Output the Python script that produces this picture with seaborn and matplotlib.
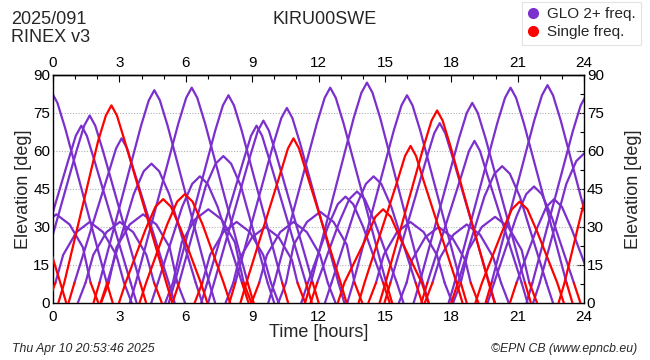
import numpy as np
import pandas as pd
import matplotlib
matplotlib.use("Agg")
import matplotlib.pyplot as plt
from matplotlib.lines import Line2D
from matplotlib.ticker import MultipleLocator, NullLocator
import seaborn as sns

# ---------------- data ----------------
# GLONASS dual-frequency passes: times [h] and elevations [deg] of each arc
glo_t = [
    [-2.8, -2.53, -0.65, -0.3, -0.05, 0.2, 0.55, 2.43, 2.7],
    [-1.22, -0.95, 0.68, 1.03, 1.28, 1.53, 1.88, 3.51, 3.78],
    [-0.89, -0.62, 1.06, 1.41, 1.66, 1.91, 2.26, 3.94, 4.21],
    [0.7, 0.97, 2.5, 2.85, 3.1, 3.35, 3.7, 5.23, 5.5],
    [1.83, 2.1, 3.98, 4.33, 4.58, 4.83, 5.18, 7.06, 7.33],
    [3.47, 3.74, 5.67, 6.02, 6.27, 6.52, 6.87, 8.8, 9.07],
    [5.23, 5.5, 7.33, 7.68, 7.93, 8.18, 8.53, 10.36, 10.63],
    [5.4, 5.7, 6.9, 7.35, 7.7, 8.05, 8.5, 9.7, 10.0],
    [6.7, 6.97, 8.6, 8.95, 9.2, 9.45, 9.8, 11.43, 11.7],
    [7.01, 7.28, 8.91, 9.26, 9.51, 9.76, 10.11, 11.74, 12.01],
    [7.97, 8.24, 9.97, 10.32, 10.57, 10.82, 11.17, 12.9, 13.17],
    [9.73, 10.0, 11.93, 12.28, 12.53, 12.78, 13.13, 15.06, 15.33],
    [11.39, 11.66, 13.59, 13.94, 14.19, 14.44, 14.79, 16.72, 16.99],
    [13.3, 13.57, 15.4, 15.75, 16.0, 16.25, 16.6, 18.43, 18.7],
    [14.98, 15.25, 16.88, 17.23, 17.48, 17.73, 18.08, 19.71, 19.98],
    [16.3, 16.57, 18.35, 18.7, 18.95, 19.2, 19.55, 21.33, 21.6],
    [16.65, 16.92, 18.45, 18.8, 19.05, 19.3, 19.65, 21.18, 21.45],
    [17.88, 18.15, 20.08, 20.43, 20.68, 20.93, 21.28, 23.21, 23.48],
    [19.55, 19.82, 21.75, 22.1, 22.35, 22.6, 22.95, 24.88, 25.15],
    [21.4, 21.67, 23.5, 23.85, 24.1, 24.35, 24.7, 26.53, 26.8],
    [21.7, 22.0, 23.2, 23.65, 24.0, 24.35, 24.8, 26.0, 26.3],
    [2.15, 2.45, 3.65, 4.1, 4.45, 4.8, 5.25, 6.45, 6.75],
    [4.44, 4.74, 5.84, 6.29, 6.64, 6.99, 7.44, 8.54, 8.84],
    [18.0, 18.3, 19.5, 19.95, 20.3, 20.65, 21.1, 22.3, 22.6],
    [19.64, 19.94, 20.94, 21.39, 21.74, 22.09, 22.54, 23.54, 23.84],
    [20.65, 20.95, 21.85, 22.3, 22.65, 23.0, 23.45, 24.35, 24.65],
    [12.29, 12.59, 13.69, 14.14, 14.49, 14.84, 15.29, 16.39, 16.69],
    [11.64, 11.94, 12.94, 13.39, 13.74, 14.09, 14.54, 15.54, 15.84],
    [11.22, 11.52, 12.42, 12.87, 13.22, 13.57, 14.02, 14.92, 15.22],
    [-1.75, -1.4, -1.05, -0.45, 0.15, 0.75, 1.35, 1.7, 2.05],
    [-0.24, 0.11, 0.46, 1.06, 1.66, 2.26, 2.86, 3.21, 3.56],
    [1.12, 1.47, 1.82, 2.42, 3.02, 3.62, 4.22, 4.57, 4.92],
    [2.17, 2.52, 2.87, 3.47, 4.07, 4.67, 5.27, 5.62, 5.97],
    [5.07, 5.42, 5.82, 6.42, 7.02, 7.62, 8.22, 8.62, 8.97],
    [6.4, 6.75, 7.1, 7.7, 8.3, 8.9, 9.5, 9.85, 10.2],
    [7.8, 8.15, 8.4, 9.0, 9.6, 10.2, 10.8, 11.05, 11.4],
    [8.97, 9.32, 9.67, 10.27, 10.87, 11.47, 12.07, 12.42, 12.77],
    [10.18, 10.53, 10.88, 11.48, 12.08, 12.68, 13.28, 13.63, 13.98],
    [14.25, 14.6, 14.95, 15.55, 16.15, 16.75, 17.35, 17.7, 18.05],
    [15.63, 15.98, 16.23, 16.83, 17.43, 18.03, 18.63, 18.88, 19.23],
    [16.8, 17.15, 17.5, 18.1, 18.7, 19.3, 19.9, 20.25, 20.6],
    [18.08, 18.43, 18.78, 19.38, 19.98, 20.58, 21.18, 21.53, 21.88],
]
glo_e = [
    [0, 8, 69, 79, 83, 79, 69, 8, 0],
    [0, 8, 56, 66, 70, 66, 56, 8, 0],
    [0, 8, 60, 70, 74, 70, 60, 8, 0],
    [0, 8, 51, 61, 65, 61, 51, 8, 0],
    [0, 8, 70, 80, 84, 80, 70, 8, 0],
    [0, 8, 71, 81, 85, 81, 71, 8, 0],
    [0, 8, 68, 78, 82, 78, 68, 8, 0],
    [0, 8, 46, 55, 58, 55, 46, 8, 0],
    [0, 8, 56, 66, 70, 66, 56, 8, 0],
    [0, 8, 58, 68, 72, 68, 58, 8, 0],
    [0, 8, 63, 73, 77, 73, 63, 8, 0],
    [0, 8, 71, 81, 85, 81, 71, 8, 0],
    [0, 8, 73, 83, 87, 83, 73, 8, 0],
    [0, 8, 68, 78, 82, 78, 68, 8, 0],
    [0, 8, 57, 67, 71, 67, 57, 8, 0],
    [0, 8, 65, 75, 79, 75, 65, 8, 0],
    [0, 8, 50, 60, 64, 60, 50, 8, 0],
    [0, 8, 71, 81, 85, 81, 71, 8, 0],
    [0, 8, 72, 82, 86, 82, 72, 8, 0],
    [0, 8, 68, 78, 82, 78, 68, 8, 0],
    [0, 8, 47, 56, 59, 56, 47, 8, 0],
    [0, 8, 43, 52, 55, 52, 43, 8, 0],
    [0, 8, 38, 47, 50, 47, 38, 8, 0],
    [0, 8, 42, 51, 54, 51, 42, 8, 0],
    [0, 8, 34, 43, 46, 43, 34, 8, 0],
    [0, 8, 29, 38, 41, 38, 29, 8, 0],
    [0, 8, 38, 47, 50, 47, 38, 8, 0],
    [0, 8, 32, 41, 44, 41, 32, 8, 0],
    [0, 8, 30, 39, 42, 39, 30, 8, 0],
    [0, 8, 22, 31, 35, 31, 22, 8, 0],
    [0, 8, 19, 28, 32, 28, 19, 8, 0],
    [0, 8, 19, 28, 32, 28, 19, 8, 0],
    [0, 8, 22, 31, 35, 31, 22, 8, 0],
    [0, 8, 24, 33, 37, 33, 24, 8, 0],
    [0, 8, 19, 28, 32, 28, 19, 8, 0],
    [0, 8, 17, 26, 30, 26, 17, 8, 0],
    [0, 8, 19, 28, 32, 28, 19, 8, 0],
    [0, 8, 23, 32, 36, 32, 23, 8, 0],
    [0, 8, 19, 28, 32, 28, 19, 8, 0],
    [0, 8, 17, 26, 30, 26, 17, 8, 0],
    [0, 8, 18, 27, 31, 27, 18, 8, 0],
    [0, 8, 21, 30, 34, 30, 21, 8, 0],
]
# low-elevation ends of GLONASS arcs recorded as single frequency (1 = yes)
glo_rise_single = [0, 1, 0, 1, 1, 0, 0, 1, 0, 0, 1, 0, 1, 0, 1, 0, 1, 0, 1, 0, 0,
                   1, 0, 1, 0, 1, 0, 1, 0, 0, 1, 0, 1, 0, 1, 0, 1, 0, 1, 0, 1, 0]
glo_set_single = [1, 0, 1, 0, 0, 1, 1, 0, 1, 1, 0, 1, 0, 1, 0, 1, 0, 1, 0, 1, 0,
                  0, 1, 0, 1, 0, 1, 0, 1, 1, 0, 1, 0, 1, 0, 1, 0, 1, 0, 1, 0, 1]

# single-frequency passes
sf_t = [
    [-0.3, 0.33, 0.6],
    [0.24, 0.51, 2.04, 2.39, 2.64, 2.89, 3.24, 5.12, 5.39],
    [2.98, 3.28, 4.18, 4.63, 4.98, 5.33, 5.78, 6.68, 6.98],
    [3.91, 4.21, 5.16, 5.61, 5.96, 6.31, 6.76, 7.71, 8.01],
    [8.47, 8.74, 10.27, 10.62, 10.87, 11.12, 11.47, 13.0, 13.27],
    [12.87, 13.17, 14.12, 14.57, 14.92, 15.27, 15.72, 16.67, 16.97],
    [13.81, 14.08, 15.56, 15.91, 16.16, 16.41, 16.76, 18.24, 18.51],
    [14.76, 15.03, 16.76, 17.11, 17.36, 17.61, 17.96, 19.69, 19.96],
    [19.09, 19.39, 20.29, 20.74, 21.09, 21.44, 21.89, 22.79, 23.09],
    [22.85, 23.12, 24.2],
]
sf_e = [
    [26, 8, 0],
    [0, 8, 64, 74, 78, 74, 64, 8, 0],
    [0, 8, 29, 38, 41, 38, 29, 8, 0],
    [0, 8, 31, 40, 43, 40, 31, 8, 0],
    [0, 8, 51, 61, 65, 61, 51, 8, 0],
    [0, 8, 25, 34, 37, 34, 25, 8, 0],
    [0, 8, 48, 58, 62, 58, 48, 8, 0],
    [0, 8, 62, 72, 76, 72, 62, 8, 0],
    [0, 8, 28, 37, 40, 37, 28, 8, 0],
    [0, 8, 47],
]

x_ticks = [0, 3, 6, 9, 12, 15, 18, 21, 24]
y_ticks = [0, 15, 30, 45, 60, 75, 90]
legend_labels = ["GLO 2+ freq.", "Single freq."]

PURPLE = "#7b2fcc"
RED = "#ff0000"

# ---------------- build segment table ----------------
rows = []
seg = 0
for i, (tt, ee) in enumerate(zip(glo_t, glo_e)):
    pts = list(zip(tt, ee))
    parts = [(pts[0:2], "S" if glo_rise_single[i] else "G"),
             (pts[1:-1], "G"),
             (pts[-2:], "S" if glo_set_single[i] else "G")]
    for p, k in parts:
        for t, e in p:
            rows.append((seg, k, t, e))
        seg += 1
for tt, ee in zip(sf_t, sf_e):
    for t, e in zip(tt, ee):
        rows.append((seg, "S", t, e))
    seg += 1
df = pd.DataFrame(rows, columns=["seg", "kind", "t", "e"])

# ---------------- figure ----------------
sns.set_style("white")
plt.rcParams["font.family"] = ["Liberation Sans", "DejaVu Sans"]

fig = plt.figure(figsize=(6.5, 3.6), dpi=100)
ax = fig.add_axes([53 / 650, 57 / 360, 531 / 650, 228 / 360])

for kind, col, z in [("G", PURPLE, 2), ("S", RED, 3)]:
    sub = df[df["kind"] == kind]
    sns.lineplot(data=sub, x="t", y="e", units="seg", estimator=None, sort=False,
                 color=col, lw=1.6, ax=ax, zorder=z, legend=False)

ax.set_xlim(0, 24)
ax.set_ylim(0, 90)
ax.set_xticks(x_ticks)
ax.set_yticks(y_ticks)
ax.xaxis.set_minor_locator(MultipleLocator(1))
ax.yaxis.set_minor_locator(MultipleLocator(7.5))
ax.tick_params(which="both", direction="in", top=True, right=True,
               labeltop=False, labelright=True, labelsize=11, colors="black")
ax.tick_params(axis="y", pad=2)
ax.tick_params(axis="x", pad=5)
ax.tick_params(which="major", length=5, width=0.8)
ax.tick_params(which="minor", length=3, width=0.8)
for s in ax.spines.values():
    s.set_color("black")
    s.set_linewidth(1.0)
for yv in y_ticks[1:-1]:
    ax.axhline(yv, color="#b0b0b0", lw=0.8, ls=(0, (1, 1.5)), zorder=1)

# top tick labels
sec = ax.secondary_xaxis("top")
sec.set_xticks(x_ticks)
sec.xaxis.set_minor_locator(NullLocator())
sec.tick_params(direction="in", length=0, pad=3.5, labelsize=11, colors="black")
sec.spines["top"].set_linewidth(1.0)

ax.set_xlabel("Time [hours]", fontsize=13, labelpad=0)
ax.set_ylabel("Elevation [deg]", fontsize=13, labelpad=1)
fig.text(633 / 650, 1 - 189 / 360, "Elevation [deg]", rotation=90,
         fontsize=13, ha="center", va="center")

fig.text(11 / 650, 1 - 19 / 360, "2025/091", fontsize=13, ha="left", va="center")
fig.text(11 / 650, 1 - 37 / 360, "RINEX v3", fontsize=13, ha="left", va="center")
fig.text(325 / 650, 1 - 19 / 360, "KIRU00SWE", fontsize=13, ha="center", va="center")
fig.text(12 / 650, 1 - 349 / 360, "Thu Apr 10 20:53:46 2025", fontsize=8.8,
         style="italic", ha="left", va="center")
fig.text(637 / 650, 1 - 349 / 360, "\u00a9EPN CB (www.epncb.eu)", fontsize=8.8,
         style="italic", ha="right", va="center")

handles = [Line2D([], [], ls="none", marker="o", markersize=7, markerfacecolor=c,
                  markeredgecolor=c) for c in (PURPLE, RED)]
leg = fig.legend(handles, legend_labels, loc="upper right",
                 bbox_to_anchor=(641 / 650, 1 - 2 / 360), fontsize=11,
                 frameon=True, fancybox=False, edgecolor="#dddddd",
                 handlelength=0.8, handletextpad=0.5, borderpad=0.35,
                 labelspacing=0.25, borderaxespad=0)
leg.get_frame().set_linewidth(0.8)

fig.savefig("out.png", dpi=100)
